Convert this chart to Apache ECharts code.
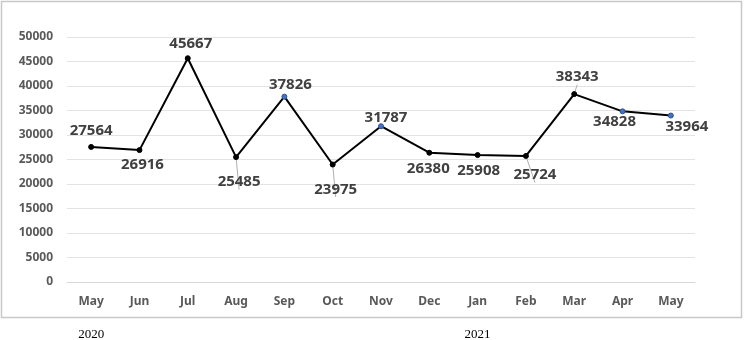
<!DOCTYPE html>
<html>
<head>
<meta charset="utf-8">
<script src="https://cdn.jsdelivr.net/npm/echarts@6/dist/echarts.min.js"></script>
<style>html,body{margin:0;padding:0;background:#fff}#c{width:744px;height:340px}</style>
</head>
<body>
<div id="c"></div>
<script>
const months = ['May','Jun','Jul','Aug','Sep','Oct','Nov','Dec','Jan','Feb','Mar','Apr','May'];
const yearLabels = ['2020','','','','','','','','2021','','','',''];
const values = [27564, 26916, 45667, 25485, 37826, 23975, 31787, 26380, 25908, 25724, 38343, 34828, 33964];
const yTicks = [0, 5000, 10000, 15000, 20000, 25000, 30000, 35000, 40000, 45000, 50000];

// label placement (style only)
const labelOffsets = [[0,-16],[3,15],[3,-14],[3,25],[6,-12],[3,25],[5,-9],[-1,16],[1,16],[9,19],[3,-17],[-8,10],[16,11]];
const leaderLine = [false,false,false,true,false,true,false,false,false,true,true,false,false];
const blueMarker = [false,false,false,false,true,false,true,false,false,false,false,true,true];

const chart = echarts.init(document.getElementById('c'));
chart.setOption({
  animation: false,
  backgroundColor: '#fff',
  grid: {left: 67, right: 49, top: 37, bottom: 58, containLabel: false, outerBoundsMode: 'none'},
  xAxis: [{
    type: 'category',
    data: months,
    boundaryGap: true,
    axisLine: {show: true, lineStyle: {color: '#d9d9d9', width: 1}},
    axisTick: {show: false},
    axisLabel: {color: '#595959', fontFamily: 'Noto Sans', fontWeight: 'bold', fontSize: 12, margin: 14, interval: 0}
  }, {
    type: 'category',
    data: yearLabels,
    position: 'bottom',
    offset: 40,
    boundaryGap: true,
    axisLine: {show: false},
    axisTick: {show: false},
    splitLine: {show: false},
    axisLabel: {color: '#000', fontFamily: 'Liberation Serif', fontSize: 13, interval: 0, margin: 6}
  }],
  yAxis: {
    type: 'value',
    min: yTicks[0],
    max: yTicks[yTicks.length - 1],
    interval: yTicks[1] - yTicks[0],
    axisLine: {show: false},
    axisTick: {show: false},
    splitLine: {lineStyle: {color: '#e3e3e3', width: 1}},
    axisLabel: {color: '#595959', fontFamily: 'Noto Sans', fontWeight: 'bold', fontSize: 12, margin: 14,
      formatter: v => String(v)}
  },
  graphic: [{
    type: 'rect',
    shape: {x: 1.5, y: 1.5, width: 740, height: 316},
    style: {fill: null, stroke: '#c8c8c8', lineWidth: 1.5},
    silent: true
  }],
  series: [{
    type: 'line',
    xAxisIndex: 0,
    data: values.map((v, i) => ({
      value: v,
      itemStyle: {color: blueMarker[i] ? '#4472c4' : '#000', borderColor: blueMarker[i] ? '#2f528f' : '#000', borderWidth: 1},
      label: {offset: labelOffsets[i]},
      labelLine: {show: leaderLine[i], lineStyle: {color: '#b0b0b0', width: 1}}
    })),
    symbol: 'circle',
    symbolSize: 5,
    lineStyle: {color: '#000', width: 2},
    label: {
      show: true,
      position: 'inside',
      color: '#404040',
      fontFamily: 'Noto Sans',
      fontWeight: 'bold',
      fontSize: 15
    }
  }]
});
</script>
</body>
</html>
